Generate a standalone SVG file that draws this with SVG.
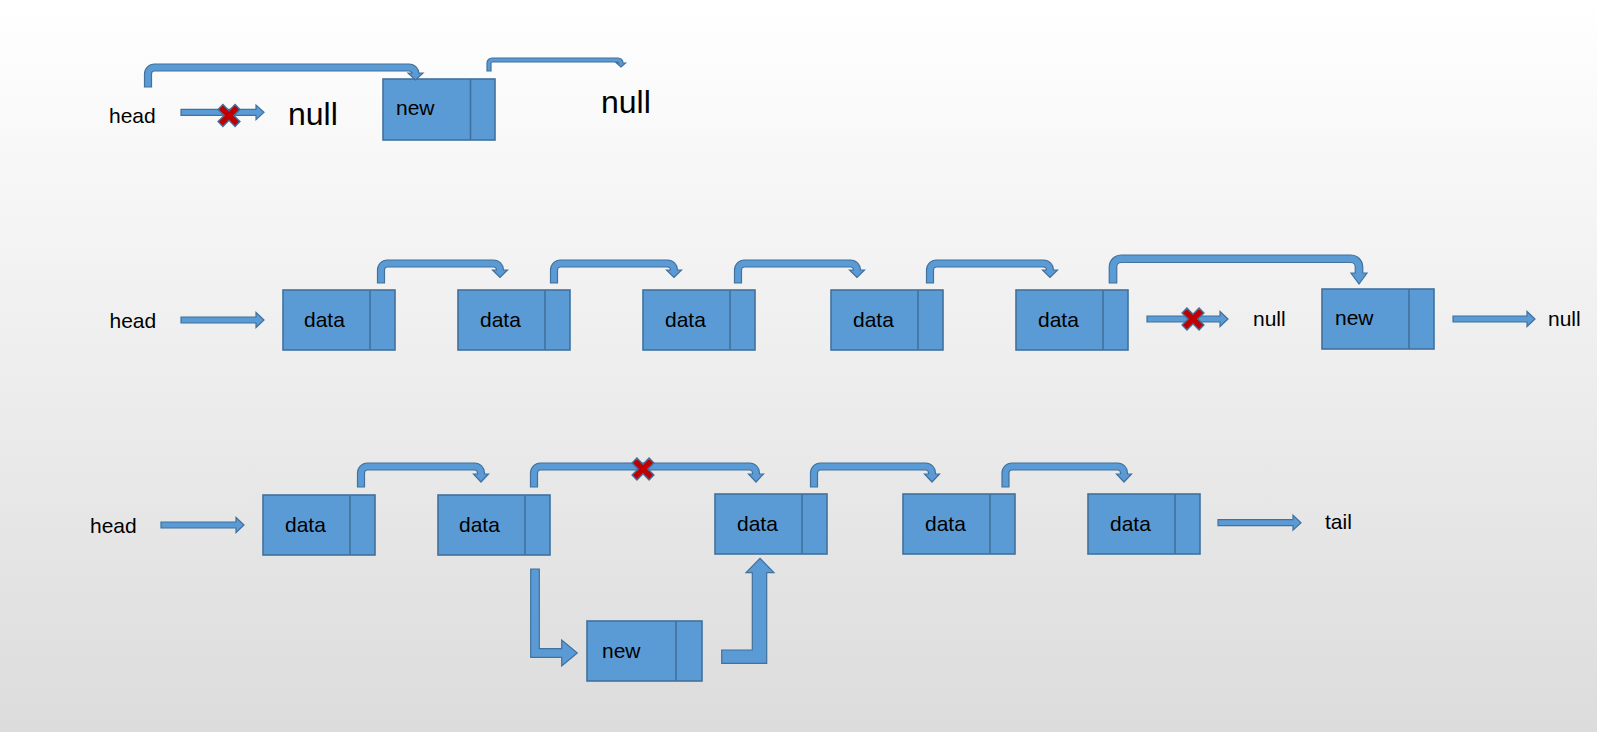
<svg xmlns="http://www.w3.org/2000/svg" width="1597" height="732" viewBox="0 0 1597 732">
<style>
.box{fill:#5B9BD5;stroke:#41719C;stroke-width:1.6}
.div{stroke:#41719C;stroke-width:1.6}
.arr{fill:#5B9BD5;stroke:#41719C;stroke-width:1.2;stroke-linejoin:miter}
.t{font-family:"Liberation Sans",Arial,sans-serif;font-size:21px;fill:#000}
.big{font-family:"Liberation Sans",Arial,sans-serif;font-size:32px;fill:#000}
.xm{fill:#C00000;stroke:#41719C;stroke-width:1.4}
</style>
<defs>
<linearGradient id="bg" x1="0" y1="0" x2="0" y2="1">
<stop offset="0" stop-color="#ffffff"/>
<stop offset="1" stop-color="#dcdcdc"/>
</linearGradient>
<polygon id="xmark" class="xm" transform="rotate(45)" points="-3.4,-12 3.4,-12 3.4,-3.4 12,-3.4 12,3.4 3.4,3.4 3.4,12 -3.4,12 -3.4,3.4 -12,3.4 -12,-3.4 -3.4,-3.4"/>
</defs>
<rect x="0" y="0" width="1597" height="732" fill="url(#bg)"/>

<!-- Row 1 -->
<g id="r1-head"><text class="t" x="109" y="123">head</text></g>
<g id="r1-null1"><text class="big" x="288" y="125">null</text></g>
<g id="r1-new"><rect class="box" x="383" y="79" width="112" height="61"/><line class="div" x1="470.5" y1="79" x2="470.5" y2="140"/><text class="t" x="396" y="115">new</text></g>
<g id="r1-null2"><text class="big" x="601" y="113">null</text></g>

<!-- Row 2 -->
<g id="r2-head"><text class="t" x="109.5" y="328">head</text></g>
<g id="r2-d1"><rect class="box" x="283" y="290" width="112" height="60"/><line class="div" x1="370" y1="290" x2="370" y2="350"/><text class="t" x="304" y="327">data</text></g>
<g id="r2-d2"><rect class="box" x="458" y="290" width="112" height="60"/><line class="div" x1="545" y1="290" x2="545" y2="350"/><text class="t" x="480" y="327">data</text></g>
<g id="r2-d3"><rect class="box" x="643" y="290" width="112" height="60"/><line class="div" x1="730" y1="290" x2="730" y2="350"/><text class="t" x="665" y="327">data</text></g>
<g id="r2-d4"><rect class="box" x="831" y="290" width="112" height="60"/><line class="div" x1="918" y1="290" x2="918" y2="350"/><text class="t" x="853" y="327">data</text></g>
<g id="r2-d5"><rect class="box" x="1016" y="290" width="112" height="60"/><line class="div" x1="1103" y1="290" x2="1103" y2="350"/><text class="t" x="1038" y="327">data</text></g>
<g id="r2-null1"><text class="t" x="1253" y="326">null</text></g>
<g id="r2-new"><rect class="box" x="1322" y="289" width="112" height="60"/><line class="div" x1="1409" y1="289" x2="1409" y2="349"/><text class="t" x="1335" y="325">new</text></g>
<g id="r2-null2"><text class="t" x="1548" y="326">null</text></g>

<!-- Row 3 -->
<g id="r3-head"><text class="t" x="90" y="533">head</text></g>
<g id="r3-d1"><rect class="box" x="263" y="495" width="112" height="60"/><line class="div" x1="350" y1="495" x2="350" y2="555"/><text class="t" x="285" y="532">data</text></g>
<g id="r3-d2"><rect class="box" x="438" y="495" width="112" height="60"/><line class="div" x1="525" y1="495" x2="525" y2="555"/><text class="t" x="459" y="532">data</text></g>
<g id="r3-d3"><rect class="box" x="715" y="494" width="112" height="60"/><line class="div" x1="802" y1="494" x2="802" y2="554"/><text class="t" x="737" y="531">data</text></g>
<g id="r3-d4"><rect class="box" x="903" y="494" width="112" height="60"/><line class="div" x1="990" y1="494" x2="990" y2="554"/><text class="t" x="925" y="531">data</text></g>
<g id="r3-d5"><rect class="box" x="1088" y="494" width="112" height="60"/><line class="div" x1="1175" y1="494" x2="1175" y2="554"/><text class="t" x="1110" y="531">data</text></g>
<g id="r3-tail"><text class="t" x="1325" y="529">tail</text></g>
<g id="r3-new"><rect class="box" x="587" y="621" width="115" height="60"/><line class="div" x1="676" y1="621" x2="676" y2="681"/><text class="t" x="602" y="658">new</text></g>

<g id="connectors">
<!-- straight arrows -->
<path class="arr" d="M181,109.3 L256,109.3 L256,105 L264,112.3 L256,119.6 L256,115.3 L181,115.3 Z"/>
<path class="arr" d="M181,317 L256,317 L256,312.5 L264,320 L256,327.5 L256,323 L181,323 Z"/>
<path class="arr" d="M1147,316 L1220,316 L1220,311.5 L1228,319 L1220,326.5 L1220,322 L1147,322 Z"/>
<path class="arr" d="M1453,316 L1527,316 L1527,311.5 L1535,319 L1527,326.5 L1527,322 L1453,322 Z"/>
<path class="arr" d="M161,522 L236,522 L236,517.5 L244,525 L236,532.5 L236,528 L161,528 Z"/>
<path class="arr" d="M1218,519.7 L1293,519.7 L1293,515.2 L1301,522.7 L1293,530.2 L1293,525.7 L1218,525.7 Z"/>

<!-- bent arrows row 1 -->
<path class="arr" d="M144.5,87 L144.5,74 A10,10 0 0 1 154.5,64 L409,64 A10,10 0 0 1 419,74 L419,73 L423,73 L415.5,80 L408,73 L412,73 L412,74 A3,3 0 0 0 409,71 L154.5,71 A3,3 0 0 0 151.5,74 L151.5,87 Z"/>
<path class="arr" d="M487,71 L487,63 A5,5 0 0 1 492,58 L618,58 A5,5 0 0 1 623,63 L625.5,63 L621,67 L616.5,63 L619,63 A1,1 0 0 0 618,62 L492,62 A1,1 0 0 0 491,63 L491,71 Z"/>

<!-- bent arrows row 2 -->
<path class="arr" d="M377.5,283 L377.5,270 A10,10 0 0 1 387.5,260 L493.5,260 A10,10 0 0 1 503.5,270 L507.5,270 L500,277.5 L492.5,270 L496.5,270 A3,3 0 0 0 493.5,267 L387.5,267 A3,3 0 0 0 384.5,270 L384.5,283 Z"/>
<path class="arr" d="M550.5,283 L550.5,270 A10,10 0 0 1 560.5,260 L667.5,260 A10,10 0 0 1 677.5,270 L681.5,270 L674,277.5 L666.5,270 L670.5,270 A3,3 0 0 0 667.5,267 L560.5,267 A3,3 0 0 0 557.5,270 L557.5,283 Z"/>
<path class="arr" d="M734.5,283 L734.5,270 A10,10 0 0 1 744.5,260 L850.5,260 A10,10 0 0 1 860.5,270 L864.5,270 L857,277.5 L849.5,270 L853.5,270 A3,3 0 0 0 850.5,267 L744.5,267 A3,3 0 0 0 741.5,270 L741.5,283 Z"/>
<path class="arr" d="M926.5,283 L926.5,270 A10,10 0 0 1 936.5,260 L1043.5,260 A10,10 0 0 1 1053.5,270 L1057.5,270 L1050,277.5 L1042.5,270 L1046.5,270 A3,3 0 0 0 1043.5,267 L936.5,267 A3,3 0 0 0 933.5,270 L933.5,283 Z"/>
<path class="arr" d="M1109.25,283 L1109.25,267 A12,12 0 0 1 1121.25,255 L1350.75,255 A12,12 0 0 1 1362.75,267 L1362.75,273 L1367,273 L1359,284 L1351,273 L1355.25,273 L1355.25,267 A4.5,4.5 0 0 0 1350.75,262.5 L1121.25,262.5 A4.5,4.5 0 0 0 1116.75,267 L1116.75,283 Z"/>

<!-- bent arrows row 3 -->
<path class="arr" d="M357.5,487 L357.5,473 A10,10 0 0 1 367.5,463 L474.5,463 A10,10 0 0 1 484.5,473 L484.5,474 L488.5,474 L481,482 L473.5,474 L477.5,474 L477.5,473 A3,3 0 0 0 474.5,470 L367.5,470 A3,3 0 0 0 364.5,473 L364.5,487 Z"/>
<path class="arr" d="M530.5,487 L530.5,473 A10,10 0 0 1 540.5,463 L749.5,463 A10,10 0 0 1 759.5,473 L759.5,474 L763.5,474 L756,482 L748.5,474 L752.5,474 L752.5,473 A3,3 0 0 0 749.5,470 L540.5,470 A3,3 0 0 0 537.5,473 L537.5,487 Z"/>
<path class="arr" d="M810.5,487 L810.5,473 A10,10 0 0 1 820.5,463 L925.5,463 A10,10 0 0 1 935.5,473 L935.5,474 L939.5,474 L932,482 L924.5,474 L928.5,474 L928.5,473 A3,3 0 0 0 925.5,470 L820.5,470 A3,3 0 0 0 817.5,473 L817.5,487 Z"/>
<path class="arr" d="M1002,487 L1002,473 A10,10 0 0 1 1012,463 L1117.5,463 A10,10 0 0 1 1127.5,473 L1127.5,474 L1131.5,474 L1124,482 L1116.5,474 L1120.5,474 L1120.5,473 A3,3 0 0 0 1117.5,470 L1012,470 A3,3 0 0 0 1009,473 L1009,487 Z"/>

<!-- down-right and up arrows -->
<path class="arr" d="M530.7,569 L539.3,569 L539.3,648.7 L561.7,648.7 L561.7,640 L577.3,653 L561.7,666 L561.7,657.3 L530.7,657.3 Z"/>
<path class="arr" d="M721.7,650 L752.3,650 L752.3,572.7 L746,572.7 L760,558.3 L774,572.7 L766.7,572.7 L766.7,663.3 L721.7,663.3 Z"/>

<!-- red crosses -->
<use href="#xmark" x="229" y="115.5"/>
<use href="#xmark" x="1193" y="319"/>
<use href="#xmark" x="643" y="469"/>
</g>
</svg>
